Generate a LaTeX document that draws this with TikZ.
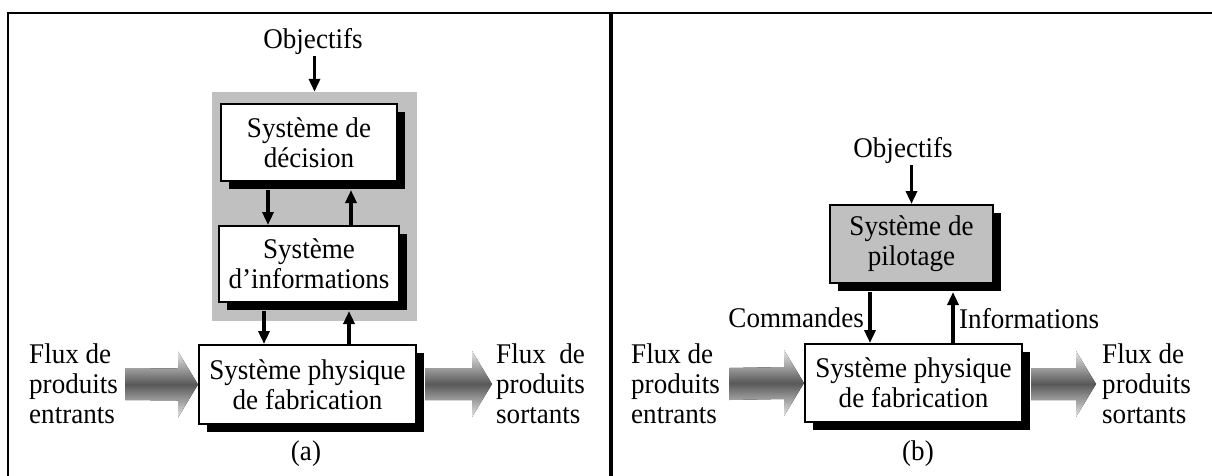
\documentclass[tikz,border=0pt]{standalone}
\usepackage{fontspec}
\usepackage{calc}
\setmainfont{Liberation Serif}[FakeStretch=0.95]
\usetikzlibrary{shadows,arrows.meta,calc}

\definecolor{panelgray}{RGB}{192,192,192}
\definecolor{fluxedge}{RGB}{232,232,232}
\definecolor{fluxmid}{RGB}{88,88,88}

\tikzset{
  lbl/.style={inner sep=0pt, font=\fontsize{28.5}{30}\selectfont},
  sysbox/.style={draw=black, line width=2pt, fill=white, align=center,
    inner sep=0pt, font=\fontsize{28.5}{30}\selectfont,
    drop shadow={opacity=1, fill=black, shadow xshift=8pt, shadow yshift=-8pt}},
  arr/.style={line width=3.5pt, -{Triangle[length=13pt,width=11pt]}},
  fluxshade/.style={shading=axis, top color=fluxedge, bottom color=fluxedge,
    middle color=fluxmid},
  frameline/.style={line width=2.5pt, line cap=rect}
}

% wide shaded arrow from coordinate #1 to tip #2
\newcommand{\fluxarrow}[2]{%
  \fill[fluxshade] ($(#1)+(0,-16)$) -- ($(#2)+(-20,-16)$) -- ($(#2)+(-20,-33)$)
    -- (#2) -- ($(#2)+(-20,33)$) -- ($(#2)+(-20,16)$) -- ($(#1)+(0,16)$) -- cycle;}

\begin{document}
\begin{tikzpicture}[x=1pt, y=-1pt]
\useasboundingbox (0,0) rectangle (1212,475);

% outer frame and divider
\draw[frameline] (8,476) -- (8,13) -- (1213,13);
\draw[line width=4pt] (611,13) -- (611,476);

% ---------------- (a) ----------------
\node[fill=panelgray, minimum width=205pt, minimum height=229pt, inner sep=0pt]
  (grp) at (314.5,206.5) {};
\node[lbl] (objA) at (313,41) {Objectifs};
\node[sysbox, minimum width=176pt, minimum height=77pt] (dec) at (309,142.5)
  {Système de\\décision};
\node[sysbox, minimum width=180pt, minimum height=76pt] (info) at (309,264)
  {Système\\d’informations};
\node[sysbox, minimum width=217pt, minimum height=79pt] (physA) at (307.5,384.5)
  {Système physique\\de fabrication};

\draw[arr] ([yshift=-2pt]objA.south -| grp.north) -- (grp.north);
\draw[arr] ([xshift=-41pt,yshift=-8pt]dec.south) -- ([xshift=-41pt]dec.south |- info.north);
\draw[arr] ([xshift=42pt]dec.south |- info.north) -- ([xshift=42pt,yshift=-8pt]dec.south);
\draw[arr] ([xshift=-45pt,yshift=-8pt]info.south) -- ([xshift=-45pt]info.south |- physA.north);
\draw[arr] ([xshift=40pt]info.south |- physA.north) -- ([xshift=40pt,yshift=-8pt]info.south);

\node[lbl, anchor=west, align=left] (inA) at (29,384)
  {Flux de\\produits\\entrants};
\node[lbl, anchor=west, align=left] (outA) at (496,384)
  {\makebox[\widthof{produits}][s]{Flux de}\\produits\\sortants};
\coordinate (inAs) at (125,384);
\coordinate (outAs) at (425,384);
\coordinate (outAt) at (492,384);
\fluxarrow{inAs}{physA.west}
\fluxarrow{outAs}{outAt}

\node[lbl] (capA) at (306,454) {(a)};

% ---------------- (b) ----------------
\node[lbl] (objB) at (903,150) {Objectifs};
\node[sysbox, fill=panelgray, minimum width=163pt, minimum height=78pt] (pil)
  at (911.5,244) {Système de\\pilotage};
\node[sysbox, minimum width=217pt, minimum height=78pt] (physB) at (913.5,383)
  {Système physique\\de fabrication};

\draw[arr] ([yshift=-2pt]objB.south -| pil.north) -- (pil.north);
\draw[arr] ([xshift=-41.5pt,yshift=-8pt]pil.south) -- ([xshift=-41.5pt]pil.south |- physB.north);
\draw[arr] ([xshift=41.5pt]pil.south |- physB.north) -- ([xshift=41.5pt,yshift=-8pt]pil.south);
\node[lbl, anchor=east] (cmd) at (864,318) {Commandes};
\node[lbl, anchor=west] (infos) at (959,319) {Informations};

\node[lbl, anchor=west, align=left] (inB) at (631,384)
  {Flux de\\produits\\entrants};
\node[lbl, anchor=west, align=left] (outB) at (1102,384)
  {Flux de\\produits\\sortants};
\coordinate (inBs) at (729,384);
\coordinate (outBs) at (1031,384);
\coordinate (outBt) at (1096,384);
\fluxarrow{inBs}{physB.west}
\fluxarrow{outBs}{outBt}

\node[lbl] (capB) at (918,454) {(b)};
\end{tikzpicture}
\end{document}
